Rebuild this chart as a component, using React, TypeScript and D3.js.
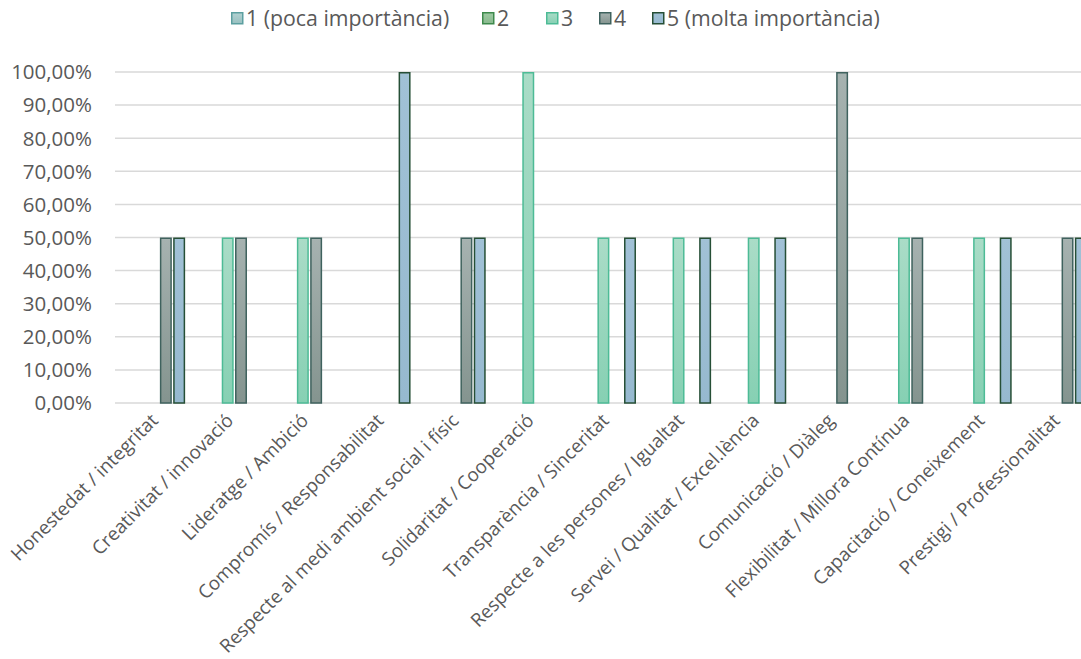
import React from "react";
import * as d3 from "d3";

const categories = [
  "Honestedat / integritat",
  "Creativitat / innovació",
  "Lideratge / Ambició",
  "Compromís / Responsabilitat",
  "Respecte al medi ambient social i físic",
  "Solidaritat / Cooperació",
  "Transparència / Sinceritat",
  "Respecte a les persones / Igualtat",
  "Servei / Qualitat / Excel.lència",
  "Comunicació / Diàleg",
  "Flexibilitat / Millora Contínua",
  "Capacitació / Coneixement",
  "Prestigi / Professionalitat",
];

const seriesNames = ["1 (poca importància)", "2", "3", "4", "5 (molta importància)"];

const s1 = [0, 0, 0, 0, 0, 0, 0, 0, 0, 0, 0, 0, 0];
const s2 = [0, 0, 0, 0, 0, 0, 0, 0, 0, 0, 0, 0, 0];
const s3 = [0, 0.5, 0.5, 0, 0, 1, 0.5, 0.5, 0.5, 0, 0.5, 0.5, 0];
const s4 = [0.5, 0.5, 0.5, 0, 0.5, 0, 0, 0, 0, 1, 0.5, 0, 0.5];
const s5 = [0.5, 0, 0, 1, 0.5, 0, 0.5, 0.5, 0.5, 0, 0, 0.5, 0.5];
const seriesValues = [s1, s2, s3, s4, s5];

const yTicks = [0, 0.1, 0.2, 0.3, 0.4, 0.5, 0.6, 0.7, 0.8, 0.9, 1.0];

const styles = [
  { top: "#b3d2d2", bottom: "#98c0c0", stroke: "#5c9fa0" },
  { top: "#9fcaa3", bottom: "#88b98d", stroke: "#3e8a4c" },
  { top: "#aadcc7", bottom: "#86d0b3", stroke: "#4dbb96" },
  { top: "#a6b2b0", bottom: "#84948f", stroke: "#3f625e" },
  { top: "#a1c1d6", bottom: "#96b9cf", stroke: "#264f36" },
];

const W = 1081;
const H = 659;
const FONT = "'Open Sans', sans-serif";
const TEXT = "#595959";

export default function App() {
  const left = 115;
  const step = 75.14;
  const x0 = d3
    .scaleBand<string>()
    .domain(categories)
    .range([left, left + step * categories.length])
    .padding(0);
  const x1 = d3
    .scaleBand<string>()
    .domain(seriesNames)
    .range([5, step - 5])
    .paddingInner(0.1)
    .paddingOuter(0);
  const y = d3.scaleLinear().domain([0, 1]).range([403, 72]);
  const fmt = (v: number) => (v * 100).toFixed(2).replace(".", ",") + "%";

  const legendX = [231, 482, 546, 599, 652];

  return (
    <svg
      width={W}
      height={H}
      style={{ position: "absolute", left: 0, top: 0, background: "#fff" }}
      fontFamily={FONT}
    >
      <defs>
        {styles.map((s, i) => (
          <linearGradient key={i} id={`g${i}`} x1="0" y1="0" x2="0" y2="1">
            <stop offset="0%" stopColor={s.top} />
            <stop offset="100%" stopColor={s.bottom} />
          </linearGradient>
        ))}
      </defs>
      {yTicks.map((t) => (
        <line
          key={t}
          x1={left}
          x2={W}
          y1={y(t)}
          y2={y(t)}
          stroke="#d9d9d9"
          strokeWidth={1.5}
        />
      ))}
      {yTicks.map((t) => (
        <text
          key={"l" + t}
          x={92}
          y={y(t)}
          dy="0.36em"
          textAnchor="end"
          fontSize={20.5}
          fill={TEXT}
        >
          {fmt(t)}
        </text>
      ))}
      {categories.map((c, ci) => (
        <g key={c} transform={`translate(${x0(c)},0)`}>
          {seriesValues.map((vals, si) =>
            vals[ci] > 0 ? (
              <rect
                key={si}
                x={(x1(seriesNames[si]) as number) + 0.75}
                y={y(vals[ci]) + 0.75}
                width={x1.bandwidth() - 1.5}
                height={y(0) - y(vals[ci]) - 0.75}
                fill={`url(#g${si})`}
                stroke={styles[si].stroke}
                strokeWidth={1.5}
              />
            ) : null
          )}
        </g>
      ))}
      {categories.map((c) => {
        const cx = (x0(c) as number) + step / 2 + 2;
        return (
          <text
            key={"x" + c}
            transform={`translate(${cx},${417}) rotate(-45)`}
            textAnchor="end"
            dy="0.35em"
            fontSize={18.8}
            fill={TEXT}
          >
            {c}
          </text>
        );
      })}
      {seriesNames.map((n, i) => (
        <g key={n} transform={`translate(${legendX[i]},${12})`}>
          <rect
            x={0.75}
            y={0.75}
            width={11}
            height={11}
            fill={`url(#g${i})`}
            stroke={styles[i].stroke}
            strokeWidth={1.5}
          />
          <text x={15} y={6.5} dy="0.36em" fontSize={21.3} fill={TEXT}>
            {n}
          </text>
        </g>
      ))}
    </svg>
  );
}
